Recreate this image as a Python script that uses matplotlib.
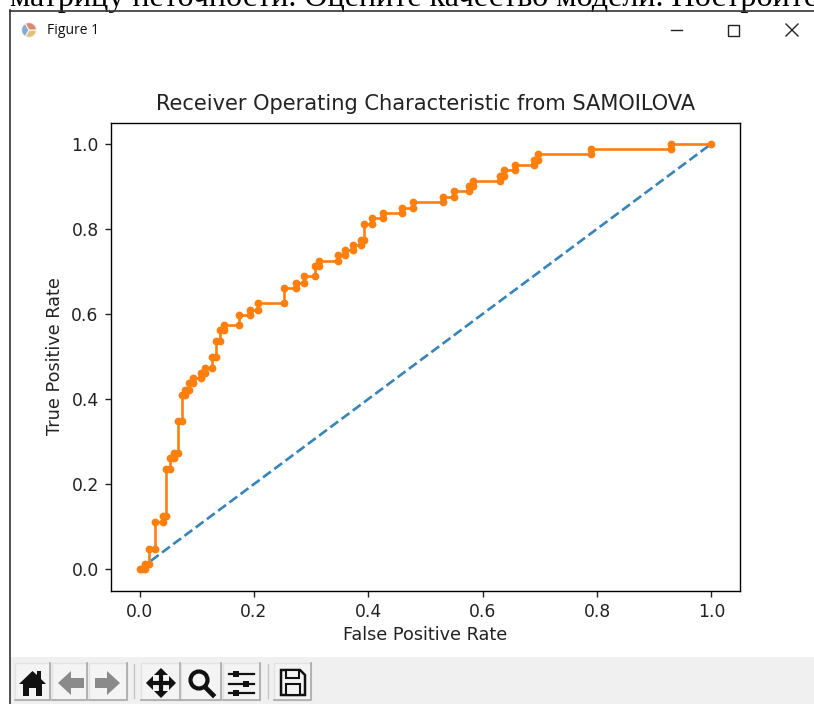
import matplotlib
matplotlib.use("Agg")
import matplotlib.pyplot as plt
from matplotlib.patches import Rectangle, Polygon, Circle, Wedge

W, H = 814, 704

# roc curve
fpr = [0.0, 0.004, 0.0096, 0.0096, 0.0166, 0.0166, 0.0277, 0.0277, 0.0405, 0.0405, 0.0464, 0.0464,
       0.0534, 0.0534, 0.0604, 0.0604, 0.0674, 0.0674, 0.0738, 0.0738, 0.0802, 0.0802, 0.0872, 0.0872,
       0.093, 0.093, 0.107, 0.107, 0.114, 0.114, 0.1275, 0.1275, 0.134, 0.134, 0.14, 0.14, 0.147, 0.147,
       0.1735, 0.1735, 0.1933, 0.1933, 0.2065, 0.2065, 0.2528, 0.2528, 0.2733, 0.2733, 0.2867, 0.2867,
       0.307, 0.307, 0.3135, 0.3135, 0.3468, 0.3468, 0.36, 0.36, 0.3736, 0.3736, 0.3864, 0.3864,
       0.3928, 0.3928, 0.4068, 0.4068, 0.426, 0.426, 0.4593, 0.4593, 0.479, 0.479, 0.53, 0.53,
       0.5503, 0.5503, 0.5766, 0.5766, 0.583, 0.583, 0.6296, 0.6296, 0.6366, 0.6366, 0.6565, 0.6565,
       0.6897, 0.6897, 0.696, 0.696, 0.7895, 0.7895, 0.9288, 0.9288, 1.0]
tpr = [0.0, 0.0, 0.0, 0.0118, 0.0118, 0.0486, 0.0486, 0.111, 0.111, 0.1246, 0.1246, 0.235,
       0.235, 0.2624, 0.2624, 0.2734, 0.2734, 0.3486, 0.3486, 0.4105, 0.4105, 0.4222, 0.4222, 0.438,
       0.438, 0.4497, 0.4497, 0.4614, 0.4614, 0.4732, 0.4732, 0.4998, 0.4998, 0.5358, 0.5358, 0.5625, 0.5625, 0.575,
       0.575, 0.5985, 0.5985, 0.6103, 0.6103, 0.6267, 0.6267, 0.6612, 0.6612, 0.673, 0.673, 0.6886,
       0.6886, 0.712, 0.712, 0.7246, 0.7246, 0.738, 0.738, 0.7497, 0.7497, 0.7615, 0.7615, 0.7732,
       0.7732, 0.8124, 0.8124, 0.8257, 0.8257, 0.8382, 0.8382, 0.8492, 0.8492, 0.8625, 0.8625, 0.875,
       0.875, 0.888, 0.888, 0.9, 0.9, 0.9127, 0.9127, 0.9236, 0.9236, 0.9377, 0.9377, 0.951,
       0.951, 0.9628, 0.9628, 0.9753, 0.9753, 0.987, 0.987, 1.0, 1.0]
ns_fpr = [0, 1]
ns_tpr = [0, 1]

title = "Receiver Operating Characteristic from SAMOILOVA"
x_label = "False Positive Rate"
y_label = "True Positive Rate"
doc_text = "матрицу неточности. Оцените качество модели. Постройте"
window_title = "Figure 1"

fig = plt.figure(figsize=(W / 100, H / 100), dpi=100, facecolor="white")

# overlay in pixel coords for the window around the plot
bg = fig.add_axes([0, 0, 1, 1], zorder=0)
bg.set_xlim(0, W)
bg.set_ylim(H, 0)
bg.axis("off")

bg.text(10, 6, doc_text, family="Liberation Serif", fontsize=23.1, va="baseline", ha="left", color="black")
bg.add_patch(Rectangle((10, 10), W, H, fc="white", ec="none", zorder=2))
bg.plot([9.5, W], [10.5, 10.5], color="#333333", lw=1.2, zorder=3)
bg.plot([9.5, 9.5], [10, H], color="#333333", lw=1.2, zorder=3)

# title bar
bg.text(47, 30, window_title, fontsize=10, family="Open Sans", va="center", zorder=3, color="#111111")
for a, b, c in [(0, 120, "#d9a441"), (120, 240, "#4d86b8"), (240, 360, "#c9572f")]:
    bg.add_patch(Wedge((29, 30), 7.5, a, b, fc=c, ec="white", lw=1, alpha=0.7, zorder=3))
bg.plot([671, 682], [30, 30], color="#222222", lw=1, zorder=3)
bg.add_patch(Rectangle((727.5, 24.5), 11, 11, fc="none", ec="#222222", lw=1, zorder=3))
bg.plot([786, 798], [24, 36], color="#222222", lw=1, zorder=3)
bg.plot([786, 798], [36, 24], color="#222222", lw=1, zorder=3)

# toolbar
bg.add_patch(Rectangle((10.5, 657), W, H - 657, fc="#f0f0f0", ec="none", zorder=2))
buttons = [(15, 50), (52, 87), (89, 127), (141, 180), (181, 221), (223, 260), (274, 311)]
for x0, x1 in buttons:
    bg.add_patch(Rectangle((x0, 663), x1 - x0, 37, fc="#f4f4f4", ec="#e2e2e2", lw=1, zorder=3))
    bg.plot([x0, x1, x1], [700, 700, 663], color="#a8a8a8", lw=1.2, zorder=3)
for sx in [133.5, 267.5]:
    bg.plot([sx, sx], [664, 698], color="#c4c4c4", lw=1, zorder=3)

dark = "#111111"
# home
bg.add_patch(Polygon([(19, 684), (32.5, 671), (37, 675), (37, 671), (41, 671), (41, 679), (46, 684), (42, 684),
                      (42, 696), (36, 696), (36, 688), (29, 688), (29, 696), (23, 696), (23, 684)], fc=dark, zorder=4))
# back and forward, greyed out
bg.add_patch(Polygon([(58, 683), (71, 671), (71, 678), (84, 678), (84, 688), (71, 688), (71, 695)],
                     fc="#8a8a8a", zorder=4))
bg.add_patch(Polygon([(120, 683), (107, 671), (107, 678), (95, 678), (95, 688), (107, 688), (107, 695)],
                     fc="#8a8a8a", zorder=4))
# pan
bg.plot([150, 172], [683, 683], color=dark, lw=3, zorder=4)
bg.plot([161, 161], [672, 694], color=dark, lw=3, zorder=4)
for pts in [[(146, 683), (153, 676), (153, 690)], [(176, 683), (169, 676), (169, 690)],
            [(161, 668), (154, 675), (168, 675)], [(161, 698), (154, 691), (168, 691)]]:
    bg.add_patch(Polygon(pts, fc=dark, zorder=4))
# zoom
bg.add_patch(Circle((199, 680), 8.5, fc="none", ec=dark, lw=3, zorder=4))
bg.plot([205, 213], [687, 695], color=dark, lw=3.4, zorder=4)
# sliders
for y, kx in [(674, 236), (684, 246), (693, 236)]:
    bg.plot([229, 254], [y, y], color=dark, lw=1.6, zorder=4)
    bg.add_patch(Rectangle((kx - 3, y - 3), 6, 6, fc=dark, zorder=4))
# save
bg.add_patch(Polygon([(281, 670), (300, 670), (305, 675), (305, 695), (281, 695)], fc="#f4f4f4", ec=dark,
                     lw=1.8, zorder=4))
bg.add_patch(Rectangle((286, 670), 13, 8, fc="#f4f4f4", ec=dark, lw=1.5, zorder=4))
bg.add_patch(Rectangle((286, 684), 14, 11, fc="#f4f4f4", ec=dark, lw=1.5, zorder=4))

# the plot itself
ax = fig.add_axes([111 / W, 1 - 590.5 / H, 629 / W, 468 / H], zorder=5)
ax.plot(ns_fpr, ns_tpr, linestyle="--", color="#1f77b4", lw=1.9, alpha=0.9)
ax.plot(fpr, tpr, marker=".", color="#ff7f0e", lw=1.9, ms=9.2)
ax.set_xlim(-0.05, 1.05)
ax.set_ylim(-0.05, 1.05)
ax.set_xticks([0, 0.2, 0.4, 0.6, 0.8, 1.0])
ax.set_yticks([0, 0.2, 0.4, 0.6, 0.8, 1.0])
ax.tick_params(labelsize=12.3, length=4.4, width=1.0, pad=4.5, colors="#222222")
ax.set_title(title, fontsize=15.1, pad=9, color="#222222")
ax.set_xlabel(x_label, fontsize=12.7, labelpad=3.5, color="#222222")
ax.set_ylabel(y_label, fontsize=12.7, labelpad=5, color="#222222")
for s in ax.spines.values():
    s.set_linewidth(1.0)

fig.savefig("out.png", dpi=100)
